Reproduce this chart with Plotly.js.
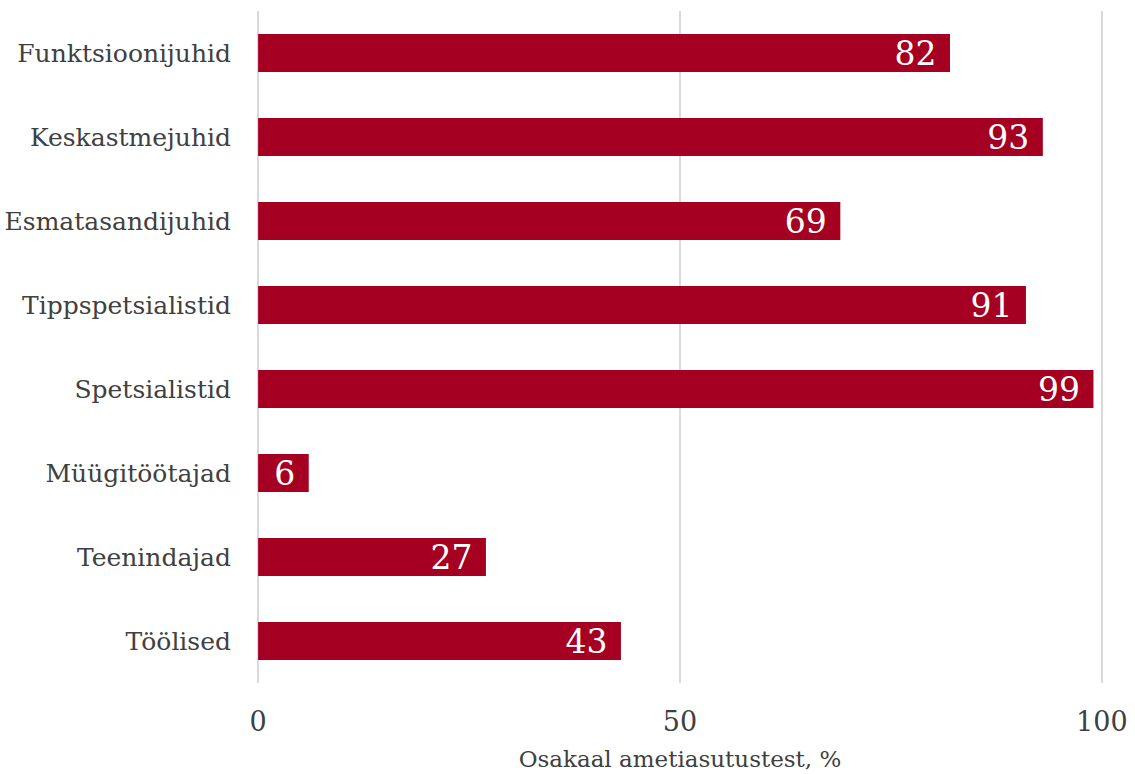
<!DOCTYPE html>
<html><head><meta charset="utf-8">
<script src="https://cdn.plot.ly/plotly-3.0.1.min.js"></script>
<style>html,body{margin:0;padding:0;background:#fff}#chart{width:1135px;height:774px}</style>
</head><body><div id="chart"></div>
<script>
const categories = ["Funktsioonijuhid","Keskastmejuhid","Esmatasandijuhid","Tippspetsialistid","Spetsialistid","Müügitöötajad","Teenindajad","Töölised"];
const values = [82, 93, 69, 91, 99, 6, 27, 43];
const xTickVals = [0, 50, 100];
const xTitle = "Osakaal ametiasutustest, %";

const FONT = "DejaVu Serif, Liberation Serif, serif";
const trace = {
  type: "bar", orientation: "h",
  x: values, y: categories,
  marker: {color: "#A50021"},
  text: values.map(v => String(v) + "\u00a0"),
  textposition: "inside", insidetextanchor: "end",
  textangle: 0,
  constraintext: "none",
  textfont: {family: FONT, size: 33, color: "#ffffff"},
  hoverinfo: "none"
};
const layout = {
  width: 1135, height: 774,
  margin: {l: 256, r: 31, t: 11, b: 91},
  paper_bgcolor: "#fff", plot_bgcolor: "#fff",
  bargap: 0.55,
  showlegend: false,
  font: {family: FONT, color: "#404040"},
  xaxis: {
    range: [-0.25, 100.25], tickvals: xTickVals,
    showgrid: true, gridcolor: "#d9d9d9", gridwidth: 2,
    zeroline: false, showline: false,
    tickfont: {size: 27, color: "#404040"},
    ticklabelstandoff: 20,
    title: {text: xTitle, font: {size: 23, color: "#404040"}, standoff: 14}
  },
  yaxis: {
    autorange: "reversed", showgrid: false, zeroline: false, showline: false,
    tickfont: {size: 25, color: "#404040"},
    ticklabelstandoff: 24
  }
};
Plotly.newPlot("chart", [trace], layout, {displayModeBar: false, staticPlot: true});
</script></body></html>
